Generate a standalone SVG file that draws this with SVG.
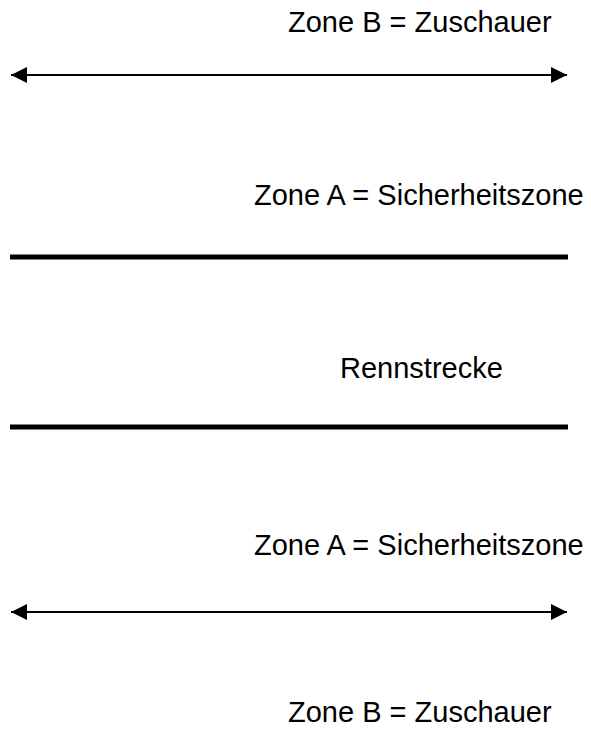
<svg xmlns="http://www.w3.org/2000/svg" width="591" height="729" viewBox="0 0 591 729">
<style>
text{font-family:"Liberation Sans",Arial,sans-serif;font-size:29px;fill:#000}
.arr{stroke:#000;stroke-width:2;fill:none}
.thick{stroke:#000;stroke-width:5;fill:none}
</style>
<defs>
<marker id="ah" viewBox="0 0 16 16" refX="16" refY="8" markerWidth="16" markerHeight="16" orient="auto-start-reverse" markerUnits="userSpaceOnUse">
<path d="M0,0 L16,8 L0,16 z" fill="#000"/>
</marker>
</defs>
<rect width="591" height="729" fill="#fff"/>
<g id="labels">
<text id="zoneB1" x="288" y="32">Zone B = Zuschauer</text>
<text id="zoneA1" x="254" y="205">Zone A = Sicherheitszone</text>
<text id="track" x="340" y="378">Rennstrecke</text>
<text id="zoneA2" x="254" y="555">Zone A = Sicherheitszone</text>
<text id="zoneB2" x="288" y="722">Zone B = Zuschauer</text>
</g>
<g id="connectors">
<line class="arr" x1="11" y1="75" x2="567" y2="75" marker-start="url(#ah)" marker-end="url(#ah)"/>
<line class="thick" x1="10" y1="257" x2="568" y2="257"/>
<line class="thick" x1="10" y1="427" x2="568" y2="427"/>
<line class="arr" x1="11" y1="612" x2="567" y2="612" marker-start="url(#ah)" marker-end="url(#ah)"/>
</g>
</svg>
